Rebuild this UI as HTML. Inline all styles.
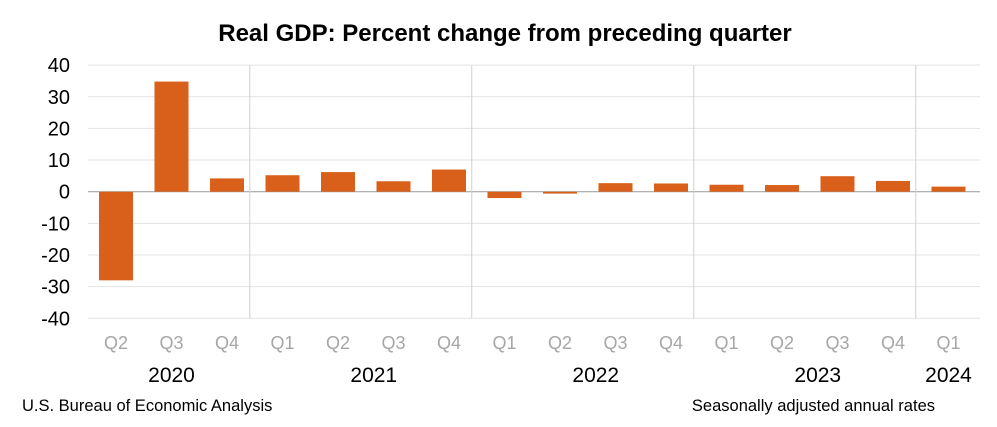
<!DOCTYPE html>
<html><head><meta charset="utf-8"><style>
body{margin:0;background:#fff;}
svg{display:block;font-family:"Liberation Sans",Calibri,sans-serif;}
</style></head><body>
<svg id="c" width="997" height="427">
<text x="505" y="41" text-anchor="middle" font-size="24" font-weight="bold" fill="#000">Real GDP:  Percent change from preceding quarter</text>
<g id="grid"></g><g id="bars"></g><g id="labels"></g>
<text x="22" y="411" font-size="16.5" fill="#000">U.S. Bureau of Economic Analysis</text>
<text x="935" y="411" text-anchor="end" font-size="16.5" fill="#000">Seasonally adjusted annual rates</text>
</svg>
<script>
const quarters=["Q2","Q3","Q4","Q1","Q2","Q3","Q4","Q1","Q2","Q3","Q4","Q1","Q2","Q3","Q4","Q1"];
const values=[-28.0,34.8,4.2,5.2,6.2,3.3,7.0,-2.0,-0.6,2.7,2.6,2.2,2.1,4.9,3.4,1.6];
const years=["2020","2021","2022","2023","2024"];
const yearStart=[0,3,7,11,15];
const yTicks=[40,30,20,10,0,-10,-20,-30,-40];
const NS="http://www.w3.org/2000/svg";
const x0=88,x1=980,step=55.5,firstC=116;
const y=v=>191.7-v*3.165;
const xc=i=>firstC+i*step;
function mk(t,a,p){const e=document.createElementNS(NS,t);for(const k in a)e.setAttribute(k,a[k]);p.appendChild(e);return e;}
const g=document.getElementById('grid'),b=document.getElementById('bars'),l=document.getElementById('labels');
yTicks.forEach(v=>{
  const ln=mk('line',{x1:x0,x2:x1,y1:y(v),y2:y(v),stroke:v===0?'#999':'#e3e3e3','stroke-width':1},g);
  
  
  const t=mk('text',{x:70,y:y(v)+7,'text-anchor':'end','font-size':20,fill:'#000'},l);
  t.textContent=v;
  
  
});
yearStart.slice(1).forEach(s=>{
  const sx=xc(s)-step/2-5;
  const ln=mk('line',{x1:sx,x2:sx,y1:y(40),y2:y(-40),stroke:'#d0d0d0','stroke-width':1},g);
  
  
});
values.forEach((v,i)=>{
  const r=mk('rect',{x:xc(i)-17,width:34,y:Math.min(y(v),y(0)),height:Math.abs(y(v)-y(0)),fill:'#d9601a'},b);
  
  
  const t=mk('text',{x:xc(i),y:349,'text-anchor':'middle','font-size':18,fill:'#a6a6a6'},l);
  t.textContent=quarters[i];
  
  
});
years.forEach((yr,k)=>{
  const s=yearStart[k],e=k<years.length-1?yearStart[k+1]-1:quarters.length-1;
  const t=mk('text',{x:(xc(s)+xc(e))/2+(k===0||k===4?0:8),y:382,'text-anchor':'middle','font-size':21,fill:'#000'},l);
  t.textContent=yr;
  
  
});
</script>
</body></html>
